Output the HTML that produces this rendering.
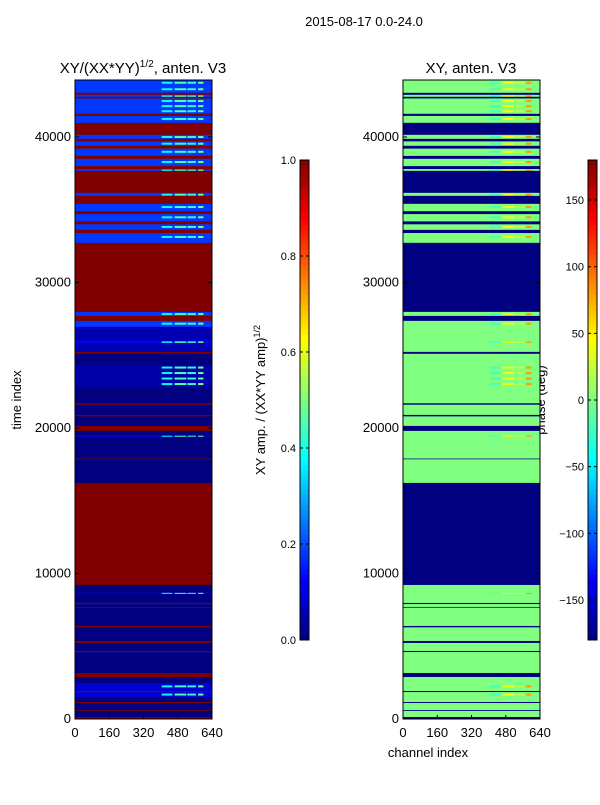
<!DOCTYPE html>
<html><head><meta charset="utf-8"><style>
body{margin:0;background:#fff;width:600px;height:800px;overflow:hidden}
svg text{font-family:"Liberation Sans","DejaVu Sans",sans-serif;font-size:13px;fill:#000}
</style></head><body>
<svg id="fig" width="600" height="800" xmlns="http://www.w3.org/2000/svg">
<text x="364" y="26" text-anchor="middle">2015-08-17 0.0-24.0</text>
<text x="143" y="73" text-anchor="middle" style="font-size:15px">XY/(XX*YY)<tspan dy="-6" style="font-size:10px">1/2</tspan><tspan dy="6">, anten. V3</tspan></text>
<text x="471" y="73" text-anchor="middle" style="font-size:15px">XY, anten. V3</text>
<text transform="translate(21,400) rotate(-90)" text-anchor="middle">time index</text>
<text x="428" y="757" text-anchor="middle">channel index</text>
<text transform="translate(265,400) rotate(-90)" text-anchor="middle">XY amp. / (XX*YY amp)<tspan dy="-5" style="font-size:9px">1/2</tspan></text>
<text transform="translate(545,400) rotate(-90)" text-anchor="middle">phase (deg)</text>
<g id="p1"></g>
<g id="p2"></g>
<g id="cb"></g>
</svg>
<script>
// bands: time start, time end, amplitude, phase, active-flag (1 = channel-structured)
const bandStart=[43931,43038,42900,42763,42650,41594,41450,40975,40150,39875,39700,39394,39200,38700,38500,38000,37800,37675,36163,35956,35406,34900,34700,34200,34000,33619,33400,32725,27981,27706,27363,26950,26000,25850,25231,25100,24337,22825,21700,21600,20900,20800,20144,19800,19500,19400,17900,17850,16225,9213,8700,8600,7975,7900,7700,7650,6394,6300,5363,5225,4675,4600,3163,2888,2475,1925,1850,1513,1169,1100,619,560,138];
const bandAmp=[0.18,1,0.18,1,0.18,1,0.18,1,0.18,1,0.18,1,0.18,1,0.18,1,0.18,1,0.18,1,0.18,1,0.18,1,0.18,1,0.18,1,0.18,1,0.18,0.05,0.12,0.05,1,0,0.04,0,1,0,1,0,1,0,0.1,0,1,0,1,0,0.06,0,1,0,1,0,1,0,1,0,1,0,1,0,0.08,1,0.08,0,1,0,1,0,1];
const bandPhase=[0,-180,0,-180,0,-180,0,-180,0,-180,0,-180,0,-180,0,-180,0,-180,0,-180,0,-180,0,-180,0,-180,0,-180,0,-180,0,0,0,0,-180,0,0,0,-180,0,-180,0,-180,0,0,0,-180,0,-180,0,0,0,-180,0,-180,0,-180,0,-180,0,-180,0,-180,0,0,-180,0,0,-180,0,-180,0,-180];
const bandActive=[1,0,1,0,1,0,1,0,1,0,1,0,1,0,1,0,1,0,1,0,1,0,1,0,1,0,1,0,1,0,1,0,1,0,0,0,1,0,0,0,0,0,0,0,1,0,0,0,0,0,1,0,0,0,0,0,0,0,0,0,0,0,0,0,1,0,1,0,0,0,0,0,0];
// channel blocks with elevated amplitude / phase in active bands
const blockLo=[405,465,525,575];
const blockHi=[455,520,565,600];
const blockAmp=[0.38,0.45,0.42,0.48];
const blockPhase=[-20,40,20,80];
const ampTicks=[0,0.2,0.4,0.6,0.8,1.0];
const phaseTicks=[-150,-100,-50,0,50,100,150];
const yTicks=[0,10000,20000,30000,40000];
const xTicks=[0,160,320,480,640];

const NS="http://www.w3.org/2000/svg";
function jet(v){v=Math.max(0,Math.min(1,v));
 const r=Math.max(0,Math.min(1,1.5-Math.abs(4*v-3))),g=Math.max(0,Math.min(1,1.5-Math.abs(4*v-2))),b=Math.max(0,Math.min(1,1.5-Math.abs(4*v-1)));
 return `rgb(${Math.round(r*255)},${Math.round(g*255)},${Math.round(b*255)})`;}
const yT=t=>719-t*(582/40000);
function el(tag,a,p){const e=document.createElementNS(NS,tag);for(const k in a)e.setAttribute(k,a[k]);p.appendChild(e);return e;}
function panel(gid,x0,isPhase){
 const g=document.getElementById(gid);const xC=c=>x0+c*137/640;
 const norm=v=>isPhase?(v+180)/360:v;
 for(let i=0;i<bandStart.length;i++){
  const t1=bandStart[i],t0=i+1<bandStart.length?bandStart[i+1]:0;
  const y=yT(t1),h=yT(t0)-y;const v=isPhase?bandPhase[i]:bandAmp[i];
  const r=el('rect',{x:xC(0),y:y,width:137,height:h+0.3,fill:jet(norm(v))},g);
  
  
  if(bandActive[i]){
   const n=Math.max(1,Math.floor(h/5));
   for(let b=0;b<blockLo.length;b++){
    const bv=isPhase?blockPhase[b]:blockAmp[b];
    for(let k=0;k<n;k++){
     const br=el('rect',{x:xC(blockLo[b]),y:y+h*(k+0.3)/n,width:xC(blockHi[b])-xC(blockLo[b]),height:Math.min(2,h*0.4/n+0.8),fill:jet(norm(bv))},g);
     
     }}}
 }
 el('rect',{x:x0,y:80,width:137,height:639,fill:'none',stroke:'#000','stroke-width':1},g);
 yTicks.forEach(t=>{el('line',{x1:x0,x2:x0+4,y1:yT(t),y2:yT(t),stroke:'#000'},g);el('line',{x1:x0+137,x2:x0+133,y1:yT(t),y2:yT(t),stroke:'#000'},g);
  const tx=el('text',{x:x0-4,y:yT(t)+4,'text-anchor':'end'},g);tx.textContent=t;
  
  });
 xTicks.forEach(c=>{el('line',{x1:xC(c),x2:xC(c),y1:719,y2:715,stroke:'#000'},g);
  const tx=el('text',{x:xC(c),y:737,'text-anchor':'middle'},g);tx.textContent=c;
  
  });
}
panel('p1',75,false);panel('p2',403,true);
const cb=document.getElementById('cb');
function colorbar(x,ticks,lo,hi,labelRight){
 for(let i=0;i<96;i++){el('rect',{x:x,y:160+i*5,width:9,height:5.3,fill:jet(1-(i+0.5)/96)},cb);}
 el('rect',{x:x,y:160,width:9,height:480,fill:'none',stroke:'#000'},cb);
 ticks.forEach(v=>{const y=640-(v-lo)/(hi-lo)*480;
  el('line',{x1:x,x2:x+3,y1:y,y2:y,stroke:'#000'},cb);el('line',{x1:x+9,x2:x+6,y1:y,y2:y,stroke:'#000'},cb);
  const tx=el('text',{x:x-4,y:y+4,'text-anchor':'end',style:'font-size:11px'},cb);tx.textContent=labelRight?(v<0?'\u2212'+(-v):v):v.toFixed(1);
  
  });
}
colorbar(300,ampTicks,0,1,false);colorbar(588,phaseTicks,-180,180,true);
</script>
</body></html>
